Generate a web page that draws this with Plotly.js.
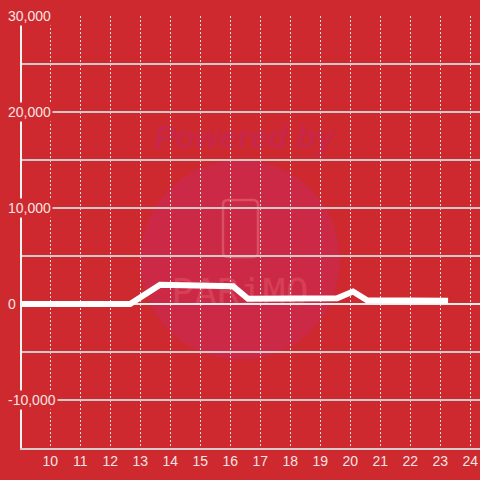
<!DOCTYPE html>
<html>
<head>
<meta charset="utf-8">
<script src="https://cdn.plot.ly/plotly-3.0.1.min.js"></script>
<style>html,body{margin:0;padding:0;background:#cd292e;}#chart{width:480px;height:480px;}</style>
</head>
<body>
<div id="chart"></div>
<script>
// Data
const hours = [8.9, 12.66, 13.66, 14.26, 14.59, 16.09, 16.59, 19.56, 20.09, 20.56, 23.26];
const values = [0, 0, 2000, 2000, 1850, 1850, 550, 600, 1300, 380, 350];
const xTickVals = [10, 11, 12, 13, 14, 15, 16, 17, 18, 19, 20, 21, 22, 23, 24];
const xTickText = ['10', '11', '12', '13', '14', '15', '16', '17', '18', '19', '20', '21', '22', '23', '24'];
const yLabelVals = [30000, 20000, 10000, 0, -10000];
const yLabelText = ['30,000', '20,000', '10,000', '0', '-10,000'];

const BG = '#cd292e';
const TXT = '#f6e4e4';
const FONT = 'Liberation Sans, Arial, sans-serif';

const L = 22, T = 16, W = 480, H = 480, B = 32, R = 0;
const pw = W - L - R, ph = H - T - B;
const px = x => (x - L) / pw;
const py = y => (H - B - y) / ph;

const trace = {
  x: hours, y: values, type: 'scatter', mode: 'lines',
  line: {color: '#ffffff', width: 6, shape: 'linear'},
  hoverinfo: 'skip'
};

const yAnn = yLabelVals.map((v, i) => ({
  xref: 'paper', x: 0, xanchor: 'left', xshift: -16,
  yref: 'y', y: v, yanchor: 'middle',
  text: yLabelText[i], showarrow: false,
  bgcolor: BG, borderpad: 1,
  font: {family: FONT, size: 14, color: TXT}
}));

const shapes = [
  {type: 'circle', layer: 'below', xref: 'paper', yref: 'paper',
   xsizemode: 'pixel', ysizemode: 'pixel', xanchor: px(240), yanchor: py(260),
   x0: -100, x1: 100, y0: -100, y1: 100,
   fillcolor: '#cb2946', line: {width: 0}},
  {type: 'path', layer: 'below', xref: 'paper', yref: 'paper',
   xsizemode: 'pixel', ysizemode: 'pixel', xanchor: px(240.5), yanchor: py(228.5),
   path: 'M -12.5,28.5 L 12.5,28.5 Q 17.5,28.5 17.5,23.5 L 17.5,-23.5 Q 17.5,-28.5 12.5,-28.5 L -12.5,-28.5 Q -17.5,-28.5 -17.5,-23.5 L -17.5,23.5 Q -17.5,28.5 -12.5,28.5 Z',
   line: {color: 'rgba(235,110,120,0.55)', width: 2.5}},
  {type: 'rect', layer: 'below', xref: 'paper', yref: 'paper',
   x0: px(134), x1: px(354), y0: py(154), y1: py(114),
   line: {width: 0}, fillcolor: 'rgba(0,0,0,0)',
   label: {text: 'Powered by', textposition: 'middle center', padding: 0,
           font: {family: FONT, size: 32, color: 'rgba(195,38,100,0.5)', weight: 'bold', style: 'italic'}}},
  {type: 'rect', layer: 'below', xref: 'paper', yref: 'paper',
   x0: px(160), x1: px(320), y0: py(311), y1: py(267),
   line: {width: 0}, fillcolor: 'rgba(0,0,0,0)',
   label: {text: 'PARiMO', textposition: 'middle center', padding: 0,
           font: {family: 'DejaVu Sans Mono, monospace', size: 38, color: 'rgba(235,110,120,0.35)'}}}
];

const layout = {
  width: W, height: H,
  margin: {l: L, r: R, t: T, b: B, pad: 0},
  paper_bgcolor: BG, plot_bgcolor: BG,
  showlegend: false,
  font: {family: FONT, size: 14, color: TXT},
  xaxis: {
    range: [10 - (50.3 - L) / 30, 10 + (W - R - 50.3) / 30],
    tickmode: 'array', tickvals: xTickVals, ticktext: xTickText,
    showgrid: true, gridcolor: '#e6dede', gridwidth: 1, griddash: '2px,2px',
    zeroline: false, showline: true, linecolor: '#d4cccc', linewidth: 1.5,
    ticks: '', tickfont: {family: FONT, size: 14, color: TXT}, fixedrange: true
  },
  yaxis: {
    range: [-15000, 30000], dtick: 5000, tick0: 0,
    showticklabels: false,
    showgrid: true, gridcolor: '#d2c8c8', gridwidth: 1.3,
    zeroline: true, zerolinecolor: '#ececec', zerolinewidth: 2.5,
    showline: true, linecolor: '#f2f2f2', linewidth: 2.5,
    ticks: '', fixedrange: true
  },
  annotations: yAnn,
  shapes: shapes
};

Plotly.newPlot('chart', [trace], layout, {displayModeBar: false, staticPlot: true});
</script>
</body>
</html>
